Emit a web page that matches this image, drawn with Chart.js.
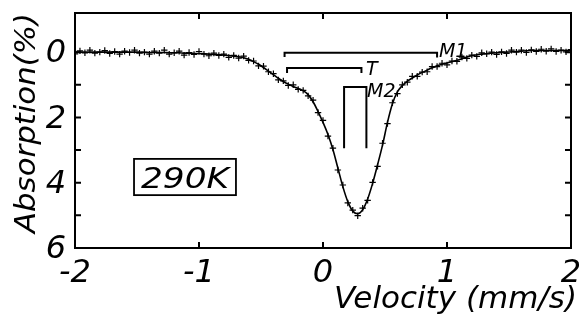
<!DOCTYPE html>
<html>
<head>
<meta charset="utf-8">
<script src="https://cdn.jsdelivr.net/npm/chart.js@4/dist/chart.umd.min.js"></script>
<style>
html,body{margin:0;padding:0;background:#fff;overflow:hidden;}
#wrap{width:579px;height:325px;}
</style>
</head>
<body>
<div id="wrap"><canvas id="c" width="579" height="325"></canvas></div>
<script>
// ---- data ----
const velocity = [
-2.00,-1.96,-1.92,-1.88,-1.84,-1.80,-1.76,-1.72,-1.68,-1.64,
-1.60,-1.56,-1.52,-1.48,-1.44,-1.40,-1.36,-1.32,-1.28,-1.24,
-1.20,-1.16,-1.12,-1.08,-1.04,-1.00,-0.96,-0.92,-0.88,-0.84,
-0.80,-0.76,-0.72,-0.68,-0.64,-0.60,-0.56,-0.52,-0.48,-0.44,
-0.40,-0.36,-0.32,-0.28,-0.24,-0.20,-0.16,-0.12,-0.08,-0.04,
 0.00, 0.04, 0.08, 0.12, 0.16, 0.20, 0.24, 0.28, 0.32, 0.36,
 0.40, 0.44, 0.48, 0.52, 0.56, 0.60, 0.64, 0.68, 0.72, 0.76,
 0.80, 0.84, 0.88, 0.92, 0.96, 1.00, 1.04, 1.08, 1.12, 1.16,
 1.20, 1.24, 1.28, 1.32, 1.36, 1.40, 1.44, 1.48, 1.52, 1.56,
 1.60, 1.64, 1.68, 1.72, 1.76, 1.80, 1.84, 1.88, 1.92, 1.96,
 2.00];
const absorptionFit = [
0.00,0.00,0.00,0.00,0.00,0.00,0.00,0.00,0.00,0.00,
0.00,0.00,0.00,0.00,0.01,0.01,0.01,0.01,0.01,0.02,
0.02,0.02,0.03,0.03,0.04,0.04,0.05,0.06,0.07,0.08,
0.09,0.10,0.12,0.14,0.17,0.22,0.29,0.37,0.47,0.58,
0.69,0.80,0.90,0.98,1.05,1.11,1.18,1.30,1.52,1.82,
2.15,2.52,2.98,3.55,4.12,4.58,4.87,4.95,4.83,4.50,
4.02,3.45,2.85,2.15,1.58,1.22,1.02,0.89,0.79,0.70,
0.62,0.55,0.48,0.42,0.37,0.33,0.29,0.25,0.20,0.15,
0.11,0.08,0.06,0.04,0.03,0.02,0.01,0.00,-0.01,-0.02,
-0.03,-0.04,-0.05,-0.05,-0.05,-0.05,-0.05,-0.05,-0.05,-0.05,
-0.05];
const absorptionMeasured = [
0.05,-0.04,0.02,-0.06,0.03,0.00,-0.05,0.04,-0.02,0.06,
-0.03,0.01,-0.06,0.03,0.00,0.06,-0.03,0.03,-0.06,0.06,
0.02,-0.03,0.09,0.01,0.07,-0.02,0.06,0.11,0.03,0.10,
0.06,0.16,0.10,0.18,0.12,0.25,0.27,0.42,0.43,0.60,
0.66,0.85,0.88,1.02,1.00,1.14,1.17,1.34,1.47,1.85,
2.09,2.57,2.94,3.61,4.07,4.62,4.84,5.01,4.78,4.54,
3.99,3.50,2.79,2.19,1.55,1.27,1.00,0.92,0.74,0.74,
0.61,0.60,0.44,0.44,0.34,0.39,0.27,0.28,0.15,0.19,
0.09,0.13,0.02,0.05,0.00,0.07,-0.01,0.04,-0.06,0.00,
-0.06,0.01,-0.07,-0.02,-0.09,-0.03,-0.10,-0.02,-0.06,-0.01,
-0.08];
// stick diagrams (velocity, absorption)
const stickM1 = [[-0.31,0.15],[-0.31,0.02],[0.92,0.02],[0.92,0.16]];
const stickT  = [[-0.29,0.64],[-0.29,0.485],[0.31,0.485],[0.31,0.64]];
const stickM2 = [[0.17,2.94],[0.17,1.07],[0.35,1.07],[0.35,2.94]];
const stickLabels = ['M1','T','M2'];
const xTickValues = [-2,-1,0,1,2];
const xTickLabels = ['-2','-1','0','1','2'];
const yTickLabels = [0,2,4,6];
const tempLabel = '290K';
const xTitle = 'Velocity (mm/s)';
const yTitle = 'Absorption(%)';

// ---- layout / style (not data) ----
const FONT = '"DejaVu Sans", sans-serif';
const labelPos = [[0.935,0.146],[0.347,0.70],[0.355,1.37]];
const boxPos = {x0:-1.524, x1:-0.702, y0:3.27, y1:4.38};

const toXY = arr => arr.map(p => ({x:p[0], y:p[1]}));
const stickStyle = {type:'line', borderColor:'#000', borderWidth:2, pointRadius:0, tension:0, fill:false};

function fitText(ctx, text, x, y, targetW, align) {
  const w = ctx.measureText(text).width;
  const s = targetW / w;
  ctx.save();
  ctx.translate(x, y);
  ctx.scale(s, 1);
  ctx.textAlign = align;
  ctx.fillText(text, 0, 0);
  ctx.restore();
}

const deco = {
  id:'deco',
  afterDatasetsDraw(chart) {
    const {ctx, chartArea:a, scales:{x, y}} = chart;
    ctx.save();
    ctx.strokeStyle = '#000';
    ctx.fillStyle = '#000';
    ctx.lineWidth = 2;
    ctx.strokeRect(a.left, a.top, a.right - a.left, a.bottom - a.top);
    ctx.beginPath();
    [-1,0,1].forEach(v => {
      const px = x.getPixelForValue(v);
      ctx.moveTo(px, a.bottom); ctx.lineTo(px, a.bottom - 6);
      ctx.moveTo(px, a.top); ctx.lineTo(px, a.top + 6);
    });
    [0,1,2,3,4,5].forEach(v => {
      const py = y.getPixelForValue(v);
      ctx.moveTo(a.left, py); ctx.lineTo(a.left + 6, py);
      ctx.moveTo(a.right, py); ctx.lineTo(a.right - 6, py);
    });
    ctx.stroke();
    const bx0 = x.getPixelForValue(boxPos.x0), bx1 = x.getPixelForValue(boxPos.x1);
    const by0 = y.getPixelForValue(boxPos.y0), by1 = y.getPixelForValue(boxPos.y1);
    ctx.lineWidth = 1.8;
    ctx.strokeRect(bx0, by0, bx1 - bx0, by1 - by0);
    ctx.font = 'italic 29px ' + FONT;
    ctx.textBaseline = 'alphabetic';
    fitText(ctx, tempLabel, (bx0 + bx1) / 2, (by0 + by1) / 2 + 11, 88, 'center');
    ctx.font = 'italic 19px ' + FONT;
    stickLabels.forEach((t, i) => {
      ctx.textAlign = 'left';
      ctx.fillText(t, x.getPixelForValue(labelPos[i][0]), y.getPixelForValue(labelPos[i][1]));
    });
    ctx.font = 'italic 30px ' + FONT;
    fitText(ctx, xTitle, 577, 308, 243, 'right');
    ctx.save();
    ctx.translate(35, 123);
    ctx.rotate(-Math.PI / 2);
    ctx.font = 'italic 29px ' + FONT;
    fitText(ctx, yTitle, 0, 0, 220, 'center');
    ctx.restore();
    ctx.restore();
  }
};

new Chart(document.getElementById('c'), {
  type:'line',
  data:{
    datasets:[
      {type:'line', data: velocity.map((v,i)=>({x:v, y:absorptionFit[i]})),
       borderColor:'#000', borderWidth:1.6, pointRadius:0, cubicInterpolationMode:'monotone', fill:false},
      {type:'line', data: velocity.map((v,i)=>({x:v, y:absorptionMeasured[i]})),
       showLine:false, pointStyle:'cross', pointRadius:3.2, borderColor:'#000', borderWidth:1.2, backgroundColor:'#000'},
      Object.assign({data: toXY(stickM1)}, stickStyle),
      Object.assign({data: toXY(stickT)}, stickStyle),
      Object.assign({data: toXY(stickM2)}, stickStyle)
    ]
  },
  options:{
    responsive:false, animation:false, devicePixelRatio:1,
    layout:{padding:{top:13, right:8, left:0, bottom:0}},
    plugins:{legend:{display:false}, tooltip:{enabled:false}},
    scales:{
      x:{type:'linear', min:-2, max:2,
         grid:{display:false, drawTicks:false}, border:{display:false},
         afterBuildTicks(s){ s.ticks = xTickValues.map(v=>({value:v})); },
         ticks:{autoSkip:false, maxRotation:0, padding:6, color:'#000',
                font:{family:FONT, size:32, style:'italic'},
                callback:(v)=>{ const i = xTickValues.indexOf(v); return i<0 ? '' : xTickLabels[i]; }},
         afterFit(s){ s.height = 77; s.paddingLeft = 0; s.paddingRight = 0; }},
      y:{type:'linear', reverse:true, min:-1.2, max:6,
         grid:{display:false, drawTicks:false}, border:{display:false},
         afterBuildTicks(s){ s.ticks = yTickLabels.map(v=>({value:v})); },
         ticks:{autoSkip:false, padding:9, labelOffset:2, color:'#000',
                font:{family:FONT, size:32, style:'italic'},
                callback:(v)=> String(v)},
         afterFit(s){ s.width = 75; s.paddingTop = 0; s.paddingBottom = 0; }}
    }
  },
  plugins:[deco]
});
</script>
</body>
</html>
